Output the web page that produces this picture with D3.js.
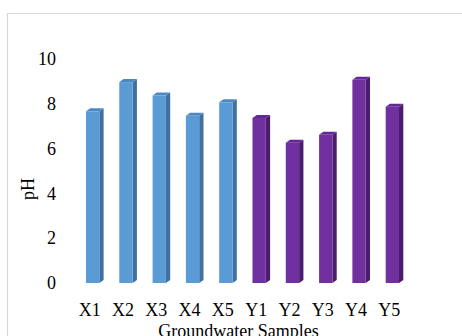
<!DOCTYPE html>
<html>
<head>
<meta charset="utf-8">
<script src="https://cdn.jsdelivr.net/npm/d3@7"></script>
<style>
  html, body { margin: 0; padding: 0; background: #fff; }
  svg { display: block; }
  text { font-family: "Liberation Serif", "Times New Roman", serif; fill: #000; }
</style>
</head>
<body>
<svg id="chart" width="462" height="336"></svg>
<script>
const categories = ["X1", "X2", "X3", "X4", "X5", "Y1", "Y2", "Y3", "Y4", "Y5"];
const phValues = [7.65, 8.95, 8.35, 7.45, 8.05, 7.35, 6.25, 6.6, 9.05, 7.85];
const yTicks = [0, 2, 4, 6, 8, 10];

const groupColors = {
  X: { front: "#5b9bd5", side: "#3f709f", top: "#4e88c0" },
  Y: { front: "#7030a0", side: "#4a1d6e", top: "#632896" }
};

const svg = d3.select("#chart");

// chart frame (only top and left edges show inside the crop)
svg.append("path")
  .attr("d", "M7.5,340 V13.5 H470")
  .attr("fill", "none")
  .attr("stroke", "#d9d9d9")
  .attr("stroke-width", 1.2);

const x = d3.scaleBand()
  .domain(categories)
  .range([76, 409])
  .paddingInner(0.6)
  .paddingOuter(0.3);

const y = d3.scaleLinear().domain([0, 10]).range([283, 58.5]);

const depthX = 4.3;
const depthY = 3;
const bw = x.bandwidth();

const bars = svg.append("g")
  .selectAll("g")
  .data(categories.map((c, i) => ({ cat: c, value: phValues[i], col: groupColors[c[0]] })))
  .join("g");

// right side face
bars.append("path")
  .attr("fill", (d) => d.col.side)
  .attr("d", (d) => {
    const x0 = x(d.cat) + bw;
    const yt = y(d.value);
    const yb = y(0);
    return `M${x0},${yt} L${x0 + depthX},${yt - depthY} L${x0 + depthX},${yb - depthY} L${x0},${yb} Z`;
  });

// top face
bars.append("path")
  .attr("fill", (d) => d.col.top)
  .attr("d", (d) => {
    const x0 = x(d.cat);
    const yt = y(d.value);
    return `M${x0},${yt} L${x0 + depthX},${yt - depthY} L${x0 + bw + depthX},${yt - depthY} L${x0 + bw},${yt} Z`;
  });

// front face
bars.append("rect")
  .attr("x", (d) => x(d.cat))
  .attr("y", (d) => y(d.value))
  .attr("width", bw)
  .attr("height", (d) => y(0) - y(d.value))
  .attr("fill", (d) => d.col.front);

// y tick labels
svg.append("g")
  .selectAll("text")
  .data(yTicks)
  .join("text")
  .attr("x", 56)
  .attr("y", (d) => y(d))
  .attr("dy", "0.35em")
  .attr("text-anchor", "end")
  .style("font-size", "18px")
  .text((d) => d);

// x tick labels
svg.append("g")
  .selectAll("text")
  .data(categories)
  .join("text")
  .attr("x", (d) => x(d) + bw / 2 - 3)
  .attr("y", 316)
  .attr("text-anchor", "middle")
  .style("font-size", "18px")
  .text((d) => d);

// axis titles
svg.append("text")
  .attr("transform", "translate(34,189) rotate(-90)")
  .attr("text-anchor", "middle")
  .style("font-size", "18px")
  .text("pH");

svg.append("text")
  .attr("x", 238.5)
  .attr("y", 337)
  .attr("text-anchor", "middle")
  .style("font-size", "18px")
  .text("Groundwater Samples");
</script>
</body>
</html>
